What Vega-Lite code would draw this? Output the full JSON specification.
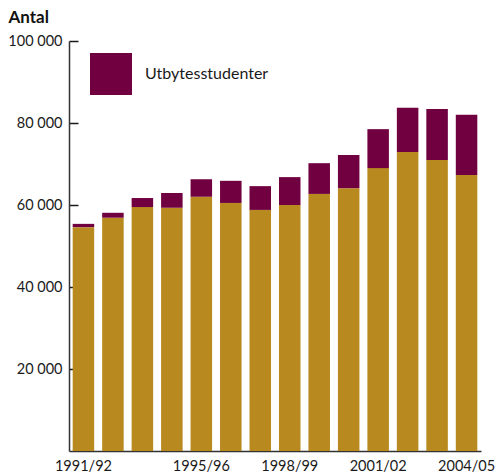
{
  "$schema": "https://vega.github.io/schema/vega-lite/v6.json",
  "autosize": "none",
  "width": 412,
  "height": 410,
  "padding": {"left": 69, "top": 41, "right": 15, "bottom": 23},
  "background": "white",
  "config": {
    "font": "Lato",
    "view": {"stroke": null},
    "axis": {"labelFont": "Lato", "titleFont": "Lato", "labelColor": "#1a1a1a", "domainColor": "#333333", "tickColor": "#1a1a1a"}
  },
  "data": {
    "values": [
      {"year": "1991/92", "group": "Studenter", "ord": 1, "value": 54600},
      {"year": "1991/92", "group": "Utbytesstudenter", "ord": 2, "value": 800},
      {"year": "1992/93", "group": "Studenter", "ord": 1, "value": 56900},
      {"year": "1992/93", "group": "Utbytesstudenter", "ord": 2, "value": 1200},
      {"year": "1993/94", "group": "Studenter", "ord": 1, "value": 59500},
      {"year": "1993/94", "group": "Utbytesstudenter", "ord": 2, "value": 2200},
      {"year": "1994/95", "group": "Studenter", "ord": 1, "value": 59300},
      {"year": "1994/95", "group": "Utbytesstudenter", "ord": 2, "value": 3600},
      {"year": "1995/96", "group": "Studenter", "ord": 1, "value": 62000},
      {"year": "1995/96", "group": "Utbytesstudenter", "ord": 2, "value": 4300},
      {"year": "1996/97", "group": "Studenter", "ord": 1, "value": 60500},
      {"year": "1996/97", "group": "Utbytesstudenter", "ord": 2, "value": 5400},
      {"year": "1997/98", "group": "Studenter", "ord": 1, "value": 58800},
      {"year": "1997/98", "group": "Utbytesstudenter", "ord": 2, "value": 5800},
      {"year": "1998/99", "group": "Studenter", "ord": 1, "value": 60000},
      {"year": "1998/99", "group": "Utbytesstudenter", "ord": 2, "value": 6800},
      {"year": "1999/00", "group": "Studenter", "ord": 1, "value": 62700},
      {"year": "1999/00", "group": "Utbytesstudenter", "ord": 2, "value": 7500},
      {"year": "2000/01", "group": "Studenter", "ord": 1, "value": 64100},
      {"year": "2000/01", "group": "Utbytesstudenter", "ord": 2, "value": 8100},
      {"year": "2001/02", "group": "Studenter", "ord": 1, "value": 69000},
      {"year": "2001/02", "group": "Utbytesstudenter", "ord": 2, "value": 9500},
      {"year": "2002/03", "group": "Studenter", "ord": 1, "value": 72900},
      {"year": "2002/03", "group": "Utbytesstudenter", "ord": 2, "value": 10800},
      {"year": "2003/04", "group": "Studenter", "ord": 1, "value": 71000},
      {"year": "2003/04", "group": "Utbytesstudenter", "ord": 2, "value": 12400},
      {"year": "2004/05", "group": "Studenter", "ord": 1, "value": 67300},
      {"year": "2004/05", "group": "Utbytesstudenter", "ord": 2, "value": 14700}
    ]
  },
  "mark": {"type": "bar"},
  "encoding": {
    "x": {
      "field": "year",
      "type": "nominal",
      "sort": null,
      "scale": {"paddingInner": 0.27, "paddingOuter": 0.125},
      "axis": {
        "title": null,
        "labelAngle": 0,
        "ticks": false,
        "labelPadding": 8,
        "labelFontSize": 14.5,
        "labelFont": "Lato",
        "domainWidth": 1.5,
        "labelExpr": "(datum.value == '1991/92' || datum.value == '1995/96' || datum.value == '1998/99' || datum.value == '2001/02' || datum.value == '2004/05') ? datum.value : ''"
      }
    },
    "y": {
      "field": "value",
      "type": "quantitative",
      "stack": "zero",
      "scale": {"domain": [0, 100000], "nice": false},
      "axis": {
        "title": "Antal",
        "titleAngle": 0,
        "titleAlign": "left",
        "titleBaseline": "alphabetic",
        "titleX": -61,
        "titleY": -19,
        "titleFontSize": 17,
        "titleFontWeight": "bold",
        "titleColor": "#111111",
        "values": [20000, 40000, 60000, 80000, 100000],
        "labelExpr": "replace(format(datum.value, ','), ',', ' ')",
        "labelFontSize": 14.5,
        "tickSize": -9,
        "tickWidth": 1.5,
        "labelPadding": 16,
        "domainWidth": 1.5,
        "grid": false
      }
    },
    "color": {
      "field": "group",
      "type": "nominal",
      "scale": {"domain": ["Studenter", "Utbytesstudenter"], "range": ["#B8891F", "#700040"]},
      "legend": {
        "values": ["Utbytesstudenter"],
        "title": null,
        "orient": "none",
        "legendX": 21,
        "legendY": 12,
        "padding": 0,
        "symbolType": "square",
        "symbolSize": 1764,
        "symbolStrokeWidth": 0,
        "symbolOpacity": 1,
        "labelFontSize": 16,
        "labelFont": "Lato",
        "labelColor": "#1a1a1a",
        "labelOffset": 13
      }
    },
    "order": {"field": "ord", "type": "quantitative"}
  }
}
